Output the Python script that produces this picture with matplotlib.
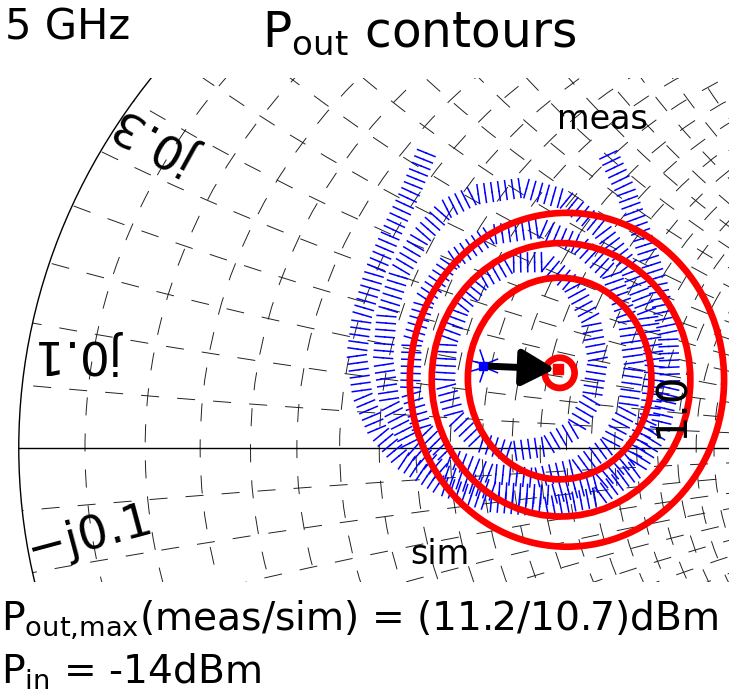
"""
Pout load-pull contours on a (cropped) Smith chart: measured vs simulated.
"""

import matplotlib.pyplot as plt
from matplotlib.patches import Circle, Ellipse
from matplotlib.patheffects import TickedStroke


plt.rcParams["font.family"] = ["DejaVu Sans"]
plt.rcParams["mathtext.default"] = "regular"
plt.rcParams["lines.scale_dashes"] = False

# Smith chart grid, normalised resistance and reactance values
grid_r = [0.05, 0.1, 0.15, 0.2, 0.25, 0.3, 0.35, 0.4, 0.45, 0.5,
          0.55, 0.6, 0.65, 0.7, 0.75, 0.8, 0.85, 0.9, 0.95, 1.0]
grid_x = [0.05, 0.1, 0.15, 0.2, 0.25, 0.3, 0.35, 0.4, 0.45, 0.5,
          0.55, 0.6, 0.65, 0.7, 0.75, 0.8, 0.85, 0.9, 0.95, 1.0]

# measured Pout contours (reflection coefficient, real / imag)
meas_c0_re = [-0.322, -0.325, -0.332, -0.340, -0.342, -0.340, -0.332, -0.325, -0.322]
meas_c0_im = [0.130, 0.138, 0.141, 0.138, 0.130, 0.122, 0.119, 0.122, 0.130]

meas_c1_re = [-0.243, -0.204, -0.178, -0.167, -0.176, -0.201, -0.243, -0.294,
              -0.340, -0.373, -0.387, -0.384, -0.365, -0.334, -0.291, -0.243]
meas_c1_im = [0.295, 0.259, 0.206, 0.140, 0.076, 0.029, 0.002, -0.006,
              0.010, 0.048, 0.105, 0.167, 0.224, 0.267, 0.294, 0.295]

meas_c2_re = [-0.250, -0.193, -0.147, -0.124, -0.115, -0.124, -0.150, -0.196, -0.258,
              -0.322, -0.380, -0.420, -0.437, -0.435, -0.416, -0.380, -0.322, -0.250]
meas_c2_im = [0.349, 0.322, 0.275, 0.203, 0.132, 0.060, 0.005, -0.032, -0.048,
              -0.041, -0.016, 0.029, 0.092, 0.163, 0.235, 0.295, 0.338, 0.349]

meas_c3_re = [-0.344, -0.275, -0.214, -0.164, -0.121, -0.095, -0.085, -0.092, -0.118,
              -0.164, -0.236, -0.315, -0.387, -0.437, -0.466, -0.476, -0.471, -0.452,
              -0.423, -0.387, -0.344]
meas_c3_im = [0.402, 0.413, 0.394, 0.349, 0.286, 0.211, 0.132, 0.052, -0.011,
              -0.054, -0.075, -0.070, -0.043, 0.005, 0.068, 0.140, 0.211, 0.279,
              0.333, 0.378, 0.402]

meas_c4_re = [-0.412, -0.435, -0.462, -0.488, -0.506, -0.514, -0.506, -0.485, -0.449,
              -0.394, -0.322, -0.243, -0.167, -0.114, -0.078, -0.063, -0.066, -0.081,
              -0.104, -0.128, -0.154]
meas_c4_im = [0.473, 0.410, 0.346, 0.279, 0.211, 0.148, 0.084, 0.029, -0.019,
              -0.059, -0.086, -0.094, -0.078, -0.035, 0.029, 0.100, 0.179, 0.259,
              0.338, 0.410, 0.470]

meas_re = [meas_c0_re, meas_c1_re, meas_c2_re, meas_c3_re, meas_c4_re]
meas_im = [meas_c0_im, meas_c1_im, meas_c2_im, meas_c3_im, meas_c4_im]

# simulated Pout contours (centre and axes of each closed contour)
sim_cx = [-0.222, -0.222, -0.220, -0.2115]
sim_cy = [0.119, 0.110, 0.108, 0.108]
sim_w = [0.043, 0.264, 0.372, 0.452]
sim_h = [0.048, 0.320, 0.434, 0.530]

# optimum loads
meas_max = (-0.332, 0.130)
sim_max = (-0.2245, 0.125)

fig = plt.figure(figsize=(7.29, 6.96), dpi=100)
ax = fig.add_axes([0, 0.1638, 1, 0.7241])
ax.set_xlim(-1.027, 0.0216)
ax.set_ylim(-0.213, 0.587)
ax.axis("off")

# chart grid
clip = Circle((0, 0), 1, transform=ax.transData)
dash = (0, (13, 13))

for r in grid_r:
    c = Circle((r / (1 + r), 0), 1 / (1 + r), fill=False,
               ec="#222222", lw=0.7, ls=dash, zorder=1)
    ax.add_patch(c)
    c.set_clip_path(clip)

for x in grid_x:
    for s in (1, -1):
        c = Circle((1, s / x), 1 / x, fill=False,
                   ec="#222222", lw=0.7, ls=dash, zorder=1)
        ax.add_patch(c)
        c.set_clip_path(clip)

ax.add_patch(Circle((0, 0), 1, fill=False, ec="black", lw=1.0, zorder=2))
ax.plot([-1, 1], [0, 0], color="black", lw=1.0, zorder=2)

# measured contours, drawn as perpendicular ticks
ticks = [
    TickedStroke(angle=90, spacing=5.0, length=1.35),
    TickedStroke(angle=-90, spacing=5.0, length=1.35),
]
for re, im in zip(meas_re, meas_im):
    ax.plot(re, im, color="blue", lw=1.1, path_effects=ticks, zorder=3)

# simulated contours
for cx, cy, w, h in zip(sim_cx, sim_cy, sim_w, sim_h):
    ax.add_patch(Ellipse((cx, cy), w, h, fill=False,
                         ec="red", lw=4.8, zorder=4))

ax.annotate(
    "",
    xy=sim_max,
    xytext=meas_max,
    arrowprops=dict(
        arrowstyle="-|>,head_length=1.0,head_width=0.55",
        color="black",
        lw=5,
        mutation_scale=20,
        shrinkA=0,
        shrinkB=2,
    ),
    zorder=5,
)
ax.plot(*meas_max, "s", color="blue", ms=6, zorder=6)
ax.plot(*sim_max, "s", color="red", ms=7, zorder=6)

# chart labels
ax.text(-0.801, 0.489, "j0.3", fontsize=34, rotation=151,
        ha="center", va="center", rotation_mode="anchor", zorder=7)
ax.text(-0.912, 0.151, "j0.1", fontsize=34, rotation=180,
        ha="center", va="center", rotation_mode="anchor", zorder=7)
ax.text(-0.898, -0.140, "\u2212j0.1", fontsize=34, rotation=15,
        ha="center", va="center", rotation_mode="anchor", zorder=7)
ax.text(-0.060, 0.068, "1.0", fontsize=30, rotation=90,
        ha="center", va="center", rotation_mode="anchor", zorder=7)
ax.text(-0.160, 0.521, "meas", fontsize=24, ha="center", va="center", zorder=7)
ax.text(-0.394, -0.170, "sim", fontsize=24, ha="center", va="center", zorder=7)

# titles and notes
fig.text(130 / 729, 1 - 40 / 696, "5 GHz", fontsize=30,
         ha="right", va="baseline")
fig.text(262 / 729, 1 - 47 / 696, "P$_{out}$ contours", fontsize=35,
         ha="left", va="baseline")
fig.text(1 / 729, 1 - 630 / 696,
         "P$_{out{,}max}$(meas/sim) = (11.2/10.7)dBm", fontsize=28.2,
         ha="left", va="baseline")
fig.text(1 / 729, 1 - 684 / 696, "P$_{in}$ = -14dBm", fontsize=28.2,
         ha="left", va="baseline")

fig.savefig("out.png", dpi=100)
plt.close(fig)
